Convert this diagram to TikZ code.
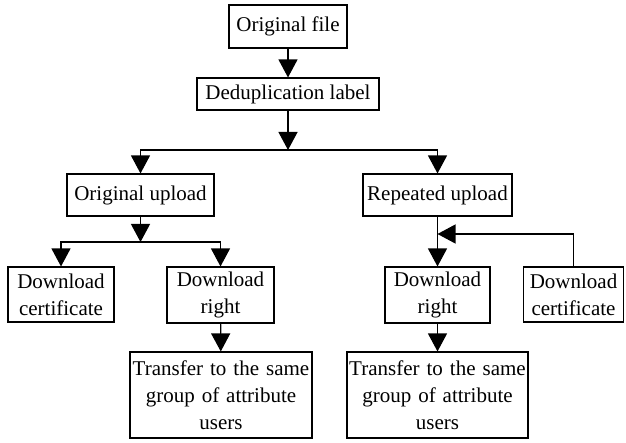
\documentclass[tikz,border=0pt]{standalone}
\usepackage{fontspec}
\setmainfont{Liberation Serif}
\usetikzlibrary{arrows.meta}
\begin{document}
\begin{tikzpicture}[x=1pt,y=-1pt,
  box/.style={draw, line width=1.1pt, inner sep=0pt, align=center,
    font=\fontsize{21}{27}\selectfont},
  arr/.style={line width=1.2pt, -{Triangle[length=18pt,width=19pt]}}]
\useasboundingbox (0,0) rectangle (626,443);
\node[box, minimum width=118pt, minimum height=43pt] (file) at (288,26.5) {Original file};
\node[box, minimum width=182pt, minimum height=32pt] (dedup) at (288,94) {Deduplication label};
\node[box, minimum width=147pt, minimum height=42pt] (oup) at (140.5,195) {Original upload};
\node[box, minimum width=149pt, minimum height=42pt] (rup) at (437.5,195) {Repeated upload};
\node[box, text width=106pt, minimum height=55pt] (certL) at (61,294.5) {Download\\certificate};
\node[box, text width=107pt, minimum height=56pt] (rightL) at (220.5,295) {Download\\right};
\node[box, text width=182pt, minimum height=86pt] (transL) at (221,395) {Transfer to the same\\group of attribute\\users};
\node[box, text width=105pt, minimum height=56pt] (rightR) at (437.5,295) {Download\\right};
\node[box, text width=100pt, minimum height=55pt] (certR) at (573.5,294.5) {Download\\certificate};
\node[box, text width=181pt, minimum height=86pt] (transR) at (437.5,395) {Transfer to the same\\group of attribute\\users};
\coordinate (fork1) at (288,150);
\coordinate (fork2) at (140.5,242);
\coordinate (join) at (437.5,234);
\draw[arr] (file) -- (dedup);
\draw[arr] (dedup) -- (fork1);
\draw[arr] (fork1) -| (oup.north);
\draw[arr] (fork1) -| (rup.north);
\draw[arr] (oup) -- (fork2);
\draw[arr] (fork2) -| (certL.north);
\draw[arr] (fork2) -| (rightL.north);
\draw[arr] (rightL) -- (transL);
\draw[arr] (rup) -- (rightR);
\draw[arr] (certR.north) |- (join);
\draw[arr] (rightR) -- (transR);
\end{tikzpicture}
\end{document}
